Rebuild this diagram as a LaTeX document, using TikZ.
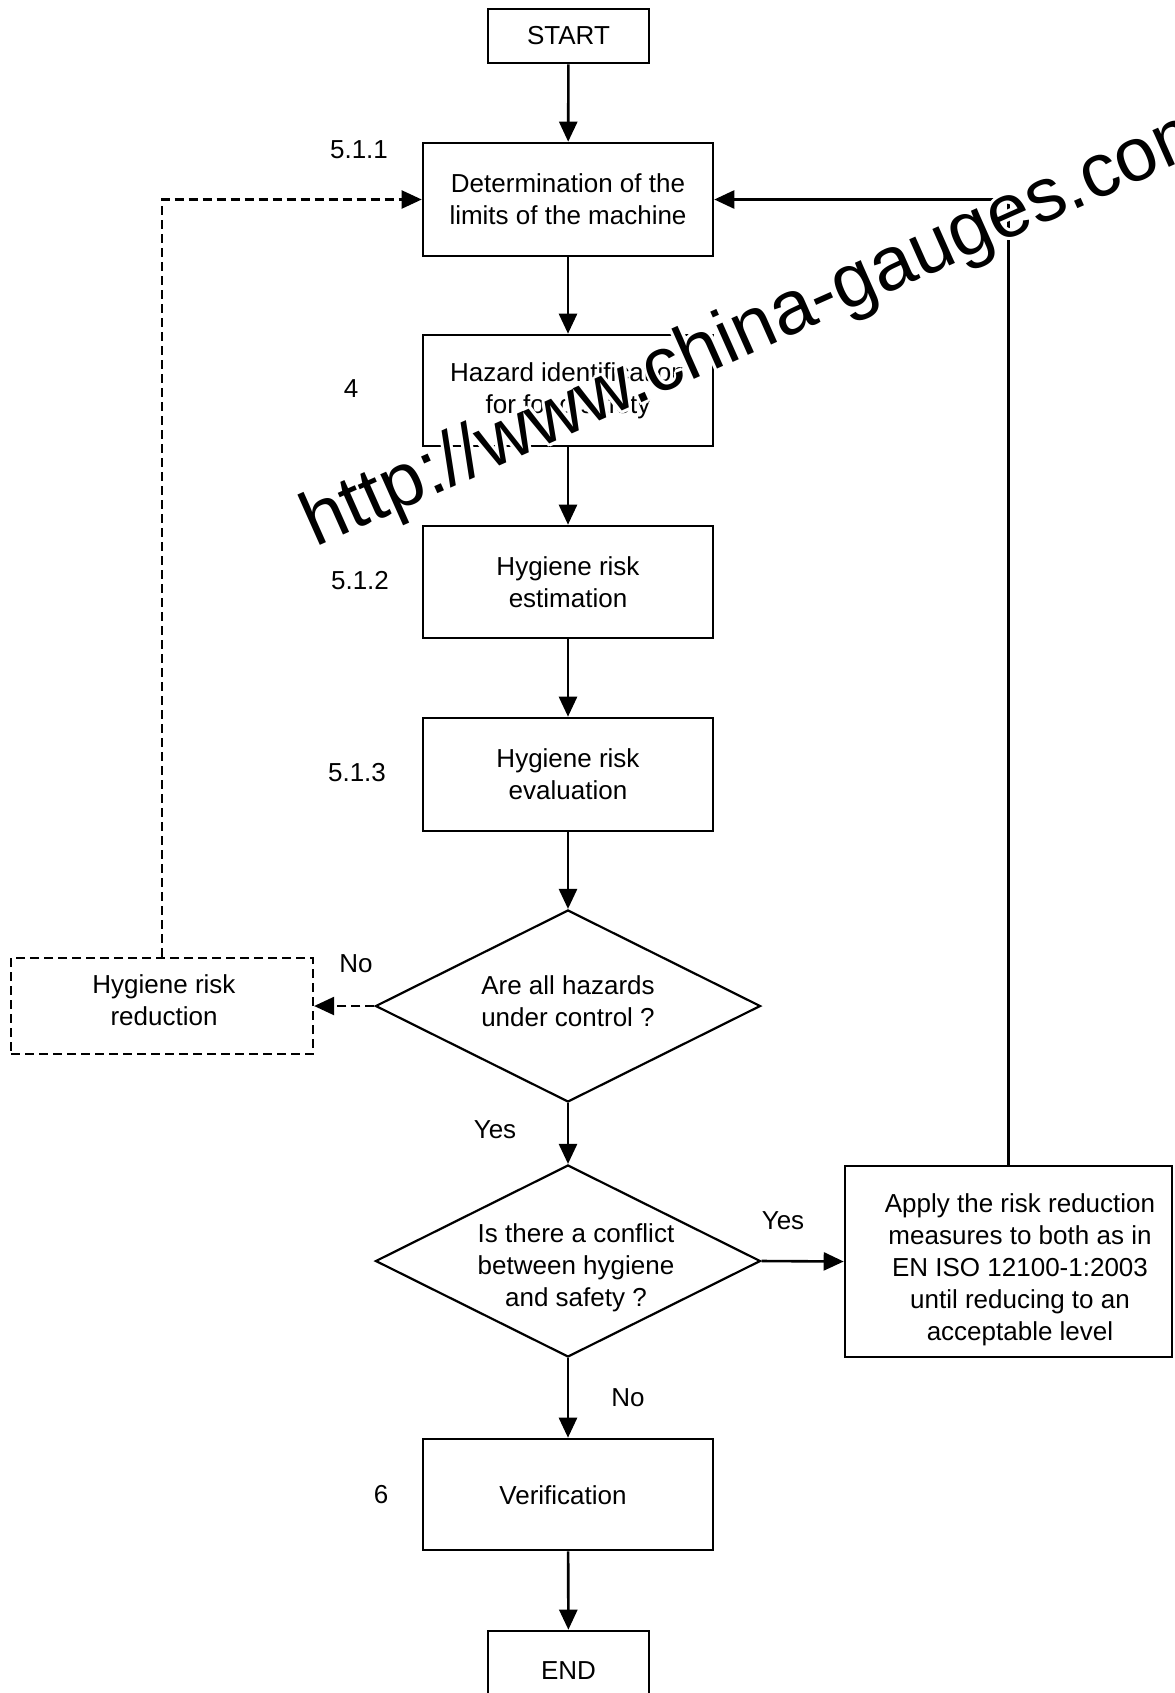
\documentclass[tikz,border=0pt]{standalone}
\usepackage{fontspec}
\setmainfont{Liberation Sans}
\usetikzlibrary{shapes.geometric,arrows.meta}
\begin{document}
\begin{tikzpicture}[x=0.5pt,y=-0.5pt,
  txt/.style={font=\fontsize{13}{16}\selectfont, align=center, inner sep=0pt},
  box/.style={draw, line width=1.3pt, inner sep=0pt, txt},
  dbox/.style={draw, line width=1.1pt, dash pattern=on 4.5pt off 2.5pt, inner sep=0pt, txt},
  dia/.style={draw, diamond, line width=1.1pt, inner sep=0pt, minimum width=192.5pt, minimum height=96pt},
  arr/.style={line width=1.3pt, -{Triangle[length=10pt,width=9pt]}},
  darr/.style={line width=1.1pt, dash pattern=on 4.5pt off 2.5pt, -{Triangle[length=10pt,width=9pt]}},
  wmark/.style={anchor=base west, inner sep=0pt, rotate=24, font=\fontsize{38}{38}\selectfont}]
\useasboundingbox (0,0) rectangle (1174,1693);
% boxes
\node[box, minimum width=80.5pt, minimum height=27pt] (start) at (568.5,36) {START};
\node[box, minimum width=145pt, minimum height=56.5pt] (b1) at (568,199.5) {Determination of the\\limits of the machine};
\node[box, minimum width=145pt, minimum height=55.5pt] (haz) at (568,390.5) {Hazard identification\\for food safety};
\node[box, minimum width=145pt, minimum height=56pt] (est) at (568,582) {Hygiene risk\\estimation};
\node[box, minimum width=145pt, minimum height=56.5pt] (eval) at (568,774.5) {Hygiene risk\\evaluation};
\node[dia] (d1) at (568,1006) {};
\node[txt] (d1t) at (568,1001) {Are all hazards\\under control ?};
\node[dbox, minimum width=151pt, minimum height=48pt] (red) at (162,1006) {};
\node[txt] (redt) at (164,1000) {Hygiene risk\\reduction};
\node[dia] (d2) at (568,1261) {};
\node[txt] (d2t) at (576,1268) {Is there a conflict\\between hygiene\\and safety ?};
\node[box, minimum width=163.5pt, minimum height=95.5pt] (app) at (1008.5,1261.5) {};
\node[txt] (appt) at (1020,1270) {Apply the risk reduction\\measures to both as in\\EN ISO 12100-1:2003\\until reducing to an\\acceptable level};
\node[box, minimum width=145pt, minimum height=55.5pt] (ver) at (568,1494.5) {};
\node[txt] (vert) at (563,1495) {Verification};
\node[box, minimum width=80.5pt, minimum height=40pt] (end) at (568.5,1671) {END};
% section numbers
\node[txt] (n1) at (359,150) {5.1.1};
\node[txt] (n2) at (351,389) {4};
\node[txt] (n3) at (360,581) {5.1.2};
\node[txt] (n4) at (357,773) {5.1.3};
\node[txt] (n5) at (381,1495) {6};
% branch labels
\node[txt] (l1) at (356,964) {No};
\node[txt] (l2) at (495,1130) {Yes};
\node[txt] (l3) at (783,1221) {Yes};
\node[txt] (l4) at (628,1398) {No};
% connectors
\draw[arr] (start) -- (b1);
\draw[arr] (b1) -- (haz);
\draw[arr] (haz) -- (est);
\draw[arr] (est) -- (eval);
\draw[arr] (eval) -- (d1.north);
\draw[arr] (d1.south) -- (d2.north);
\draw[arr] (d2.south) -- (ver);
\draw[arr] (ver) -- (end);
\draw[darr] (d1.west) -- (red.east);
\draw[darr] (red.north) |- (b1.west);
\draw[arr] (d2.east) -- (app.west);
\draw[arr] (app.north) |- (b1.east);
% watermark with white halo
\foreach \dx/\dy [count=\i] in {1.6/0,-1.6/0,0/1.6,0/-1.6,1.1/1.1,-1.1/1.1,1.1/-1.1,-1.1/-1.1}
  \node[wmark, white, xshift=\dx pt, yshift=\dy pt] (wmh\i) at (315,548) {http://www.china-gauges.com};
\node[wmark] (wm) at (315,548) {http://www.china-gauges.com};
\end{tikzpicture}
\end{document}
